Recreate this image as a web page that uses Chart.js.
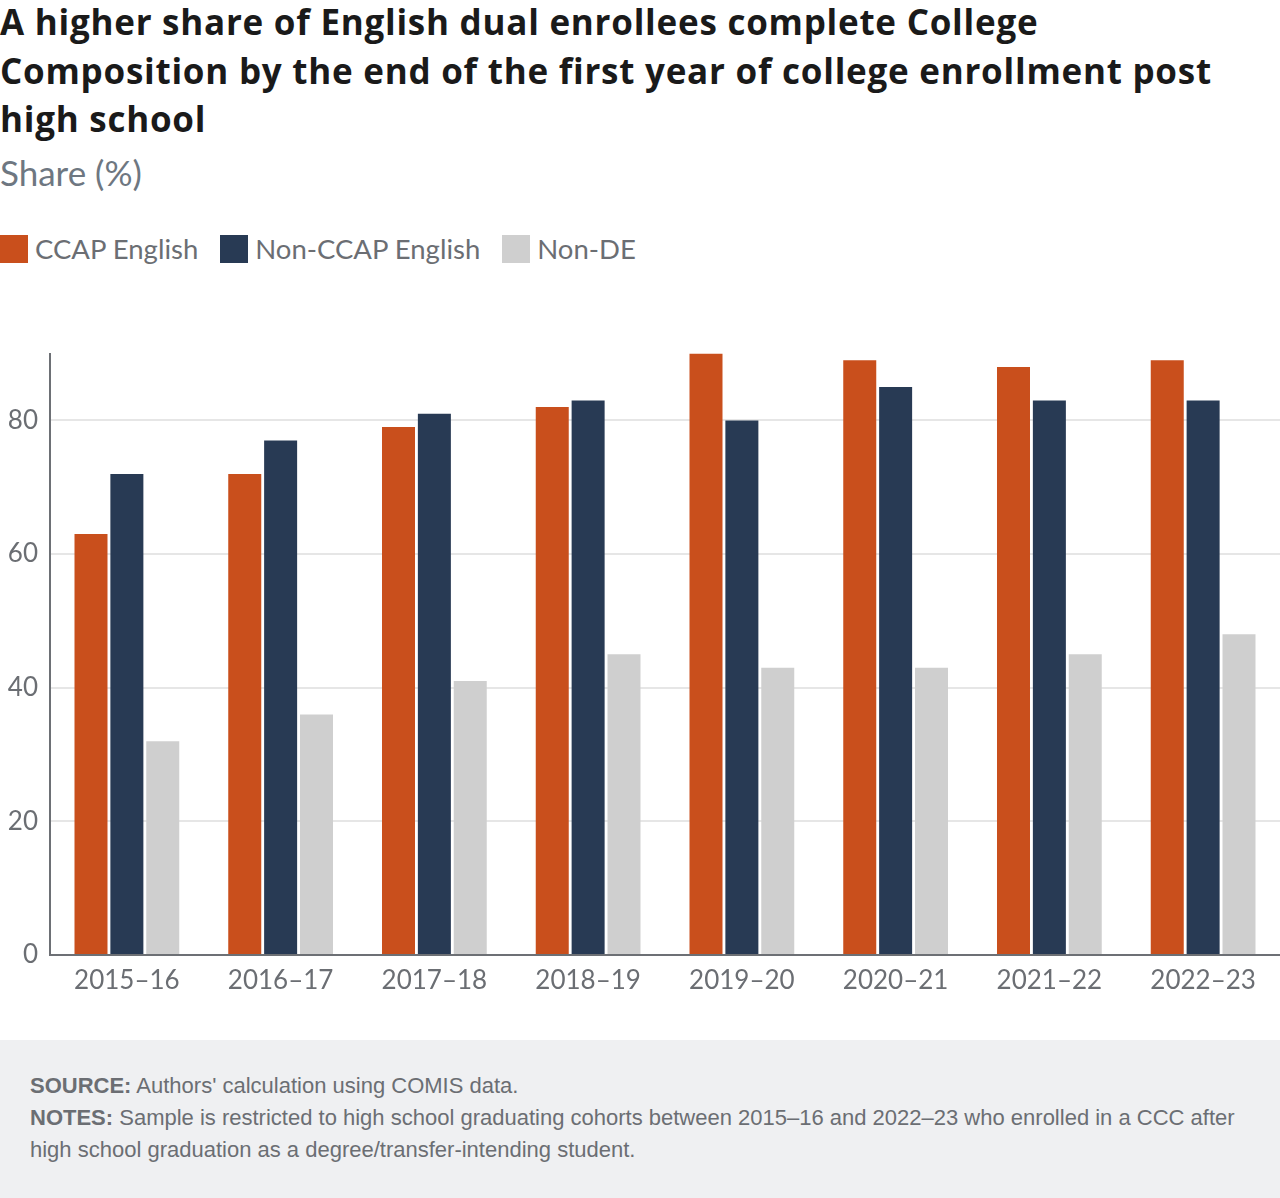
<!DOCTYPE html>
<html><head><meta charset="utf-8">
<script src="https://cdn.jsdelivr.net/npm/chart.js@4"></script>
<style>
html,body{margin:0;padding:0;background:#fff;width:1280px;height:1198px;overflow:hidden;font-family:Lato,"Open Sans",sans-serif;}
#title{position:absolute;left:0;top:0;width:1280px;white-space:nowrap;font-family:"Open Sans";font-weight:bold;font-size:35px;letter-spacing:0.75px;line-height:48.5px;color:#1a1a1a;margin-top:-2px}
#sub{position:absolute;left:0;top:151px;font-size:35px;color:#6e7781;}
#legend{position:absolute;left:0;top:232px;font-size:27.5px;color:#6b6e73;display:flex;align-items:center;}
#legend .it{display:flex;align-items:center;margin-right:22px}
#legend .sw{width:28px;height:28px;margin-right:7px}
#wrap{position:absolute;left:0;top:326px;width:1280px;height:714px}
#foot{position:absolute;left:0;top:1040px;width:1280px;height:158px;background:#eff0f2;font-family:"Liberation Sans",Arial,sans-serif;font-size:22px;line-height:32px;color:#6b6e73;white-space:nowrap}
#foot .in{padding:30px 30px 0 30px}
</style></head><body>
<div id="title">A higher share of English dual enrollees complete College<br>Composition by the end of the first year of college enrollment post<br>high school</div>
<div id="sub">Share (%)</div>
<div id="legend"></div>
<div id="wrap"><canvas id="c"></canvas></div>
<div id="foot"><div class="in"><b>SOURCE:</b> Authors' calculation using COMIS data.<br><b>NOTES:</b> Sample is restricted to high school graduating cohorts between 2015–16 and 2022–23 who enrolled in a CCC after<br>high school graduation as a degree/transfer-intending student.</div></div>
<script>
const categories = ["2015–16","2016–17","2017–18","2018–19","2019–20","2020–21","2021–22","2022–23"];
const seriesNames = ["CCAP English","Non-CCAP English","Non-DE"];
const ccapEnglish = [63,72,79,82,90,89,88,89];
const nonCcapEnglish = [72,77,81,83,80,85,83,83];
const nonDE = [32,36,41,45,43,43,45,48];
const yTicks = [0,20,40,60,80];
const colors = ["#c94f1c","#283a54","#cfcfcf"];

const leg = document.getElementById('legend');
seriesNames.forEach((n,i)=>{
  const d=document.createElement('div');d.className='it';
  d.innerHTML='<span class="sw" style="background:'+colors[i]+'"></span><span>'+n+'</span>';
  leg.appendChild(d);
});

const values=[ccapEnglish,nonCcapEnglish,nonDE];
new Chart(document.getElementById('c'),{
  type:'bar',
  data:{labels:categories,datasets:seriesNames.map((n,i)=>({label:n,data:values[i],backgroundColor:colors[i],categoryPercentage:0.7,barPercentage:0.92}))},
  options:{
    responsive:true,maintainAspectRatio:false,animation:false,
    layout:{padding:{top:15,right:0,left:0,bottom:0}},
    plugins:{legend:{display:false},tooltip:{enabled:false}},
    scales:{
      x:{grid:{display:false,drawTicks:false},border:{display:true,color:'#6d7075',width:2},
         ticks:{color:'#6b6e73',font:{family:'Lato',size:26},padding:10,maxRotation:0},
         afterFit:s=>{s.height=85;}},
      y:{min:0,max:90,
         afterBuildTicks:s=>{s.ticks=yTicks.map(v=>({value:v}));},
         grid:{color:'#e6e6e6',lineWidth:2,drawTicks:false},
         border:{display:true,color:'#6d7075',width:2},
         ticks:{color:'#6b6e73',font:{family:'Lato',size:26},padding:12},
         afterFit:s=>{s.width=50;}}
    }
  }
});
</script>
</body></html>
